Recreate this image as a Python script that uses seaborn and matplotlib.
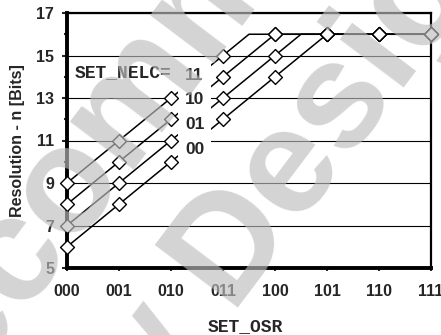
import matplotlib
matplotlib.use('Agg')
import matplotlib.pyplot as plt
from matplotlib.patches import Rectangle
import pandas as pd
import seaborn as sns

osr_codes = ['000', '001', '010', '011', '100', '101', '110', '111']
nelc_codes = ['11', '10', '01', '00']

# resolution in bits at each SET_OSR step, one list per SET_NELC setting
res_nelc_11 = [9, 11, 13, 15, 16, 16, 16, 16]
res_nelc_10 = [8, 10, 12, 14, 16, 16, 16, 16]
res_nelc_01 = [7, 9, 11, 13, 15, 16, 16, 16]
res_nelc_00 = [6, 8, 10, 12, 14, 16, 16, 16]

# where each trend line reaches the 16 bit ceiling (in SET_OSR steps)
ceiling_x = [3.5, 4.0, 4.5, 5.0]
max_bits = 16

sns.set_style('white')
plt.rcParams['font.family'] = ['Liberation Sans', 'DejaVu Sans']
plt.rcParams['font.weight'] = 'bold'

series = [res_nelc_11, res_nelc_10, res_nelc_01, res_nelc_00]
pos = list(range(len(osr_codes)))

pts = pd.DataFrame({
    'x': pos * len(series),
    'y': [v for s in series for v in s],
    'nelc': [c for c in nelc_codes for _ in pos],
})
lines = pd.DataFrame({
    'x': [v for cx in ceiling_x for v in (0, cx, pos[-1])],
    'y': [v for s in series for v in (s[0], max_bits, max_bits)],
    'nelc': [c for c in nelc_codes for _ in range(3)],
})

fig = plt.figure(figsize=(4.41, 3.35), dpi=100)
ax = fig.add_axes([67 / 441, 67 / 335, 364 / 441, 255 / 335])

sns.lineplot(data=lines, x='x', y='y', units='nelc', estimator=None,
             color='black', lw=1.1, ax=ax, zorder=3)

# white patch behind the code labels, it cuts the lines like the original
ax.add_patch(Rectangle((2.13, 9.85), 0.64, 5.0, facecolor='white',
                       edgecolor='none', zorder=4))

sns.scatterplot(data=pts, x='x', y='y', marker='D', s=50, color='white',
                edgecolor='black', linewidth=1.0, ax=ax, zorder=5,
                clip_on=False, legend=False)

ax.text(0.15, 14.22, 'SET_NELC=', family='Liberation Mono', fontsize=13,
        fontweight='bold', va='center', ha='left', zorder=6)
for code, yy in zip(nelc_codes, [14.08, 12.93, 11.76, 10.58]):
    ax.text(2.27, yy, code, fontsize=12.5, fontweight='bold',
            va='center', ha='left', zorder=6)

ax.set_xlim(0, 7)
ax.set_ylim(5, 17)
ax.set_xticks(pos)
ax.set_xticklabels(osr_codes)
ax.set_yticks(range(5, 18, 2))
ax.set_yticks(range(6, 17, 2), minor=True)
ax.yaxis.grid(True, which='major', color='black', lw=0.8)
ax.xaxis.grid(False)
# the two lowest grid lines come out softer grey in the original
for tick in ax.yaxis.get_major_ticks():
    if tick.get_loc() in (7, 9):
        tick.gridline.set_color('#707070')

for side, w in [('left', 2.8), ('bottom', 2.8), ('top', 1.6), ('right', 1.6)]:
    ax.spines[side].set_visible(True)
    ax.spines[side].set_color('black')
    ax.spines[side].set_linewidth(w)

ax.tick_params(axis='y', which='major', direction='out', length=3.6,
               width=1.5, pad=5.5, labelsize=11.5, left=True)
ax.tick_params(axis='y', which='minor', direction='out', length=2,
               width=1.5, left=True)
ax.tick_params(axis='x', direction='out', length=2.5, width=1.5, pad=9,
               labelsize=11.5, bottom=True)

ax.set_xlabel('SET_OSR', family='Liberation Mono', fontsize=13,
              fontweight='bold')
ax.set_ylabel('Resolution - n [Bits]', fontsize=11.5, fontweight='bold')
ax.xaxis.set_label_coords(0.49, -0.195)
ax.yaxis.set_label_coords(-0.115, 0.5)

# watermark over the whole picture
wm = dict(fontsize=108, fontweight='bold', color='#bdbdbd', alpha=0.65,
          rotation=53, rotation_mode='anchor', ha='center', va='center',
          zorder=10)
fig.text(112 / 441, 1 - 134 / 335, 'Not Recommended', **wm)
fig.text(199 / 441, 1 - 295 / 335, 'for New Designs', **wm)

fig.savefig('out.png', dpi=100)
